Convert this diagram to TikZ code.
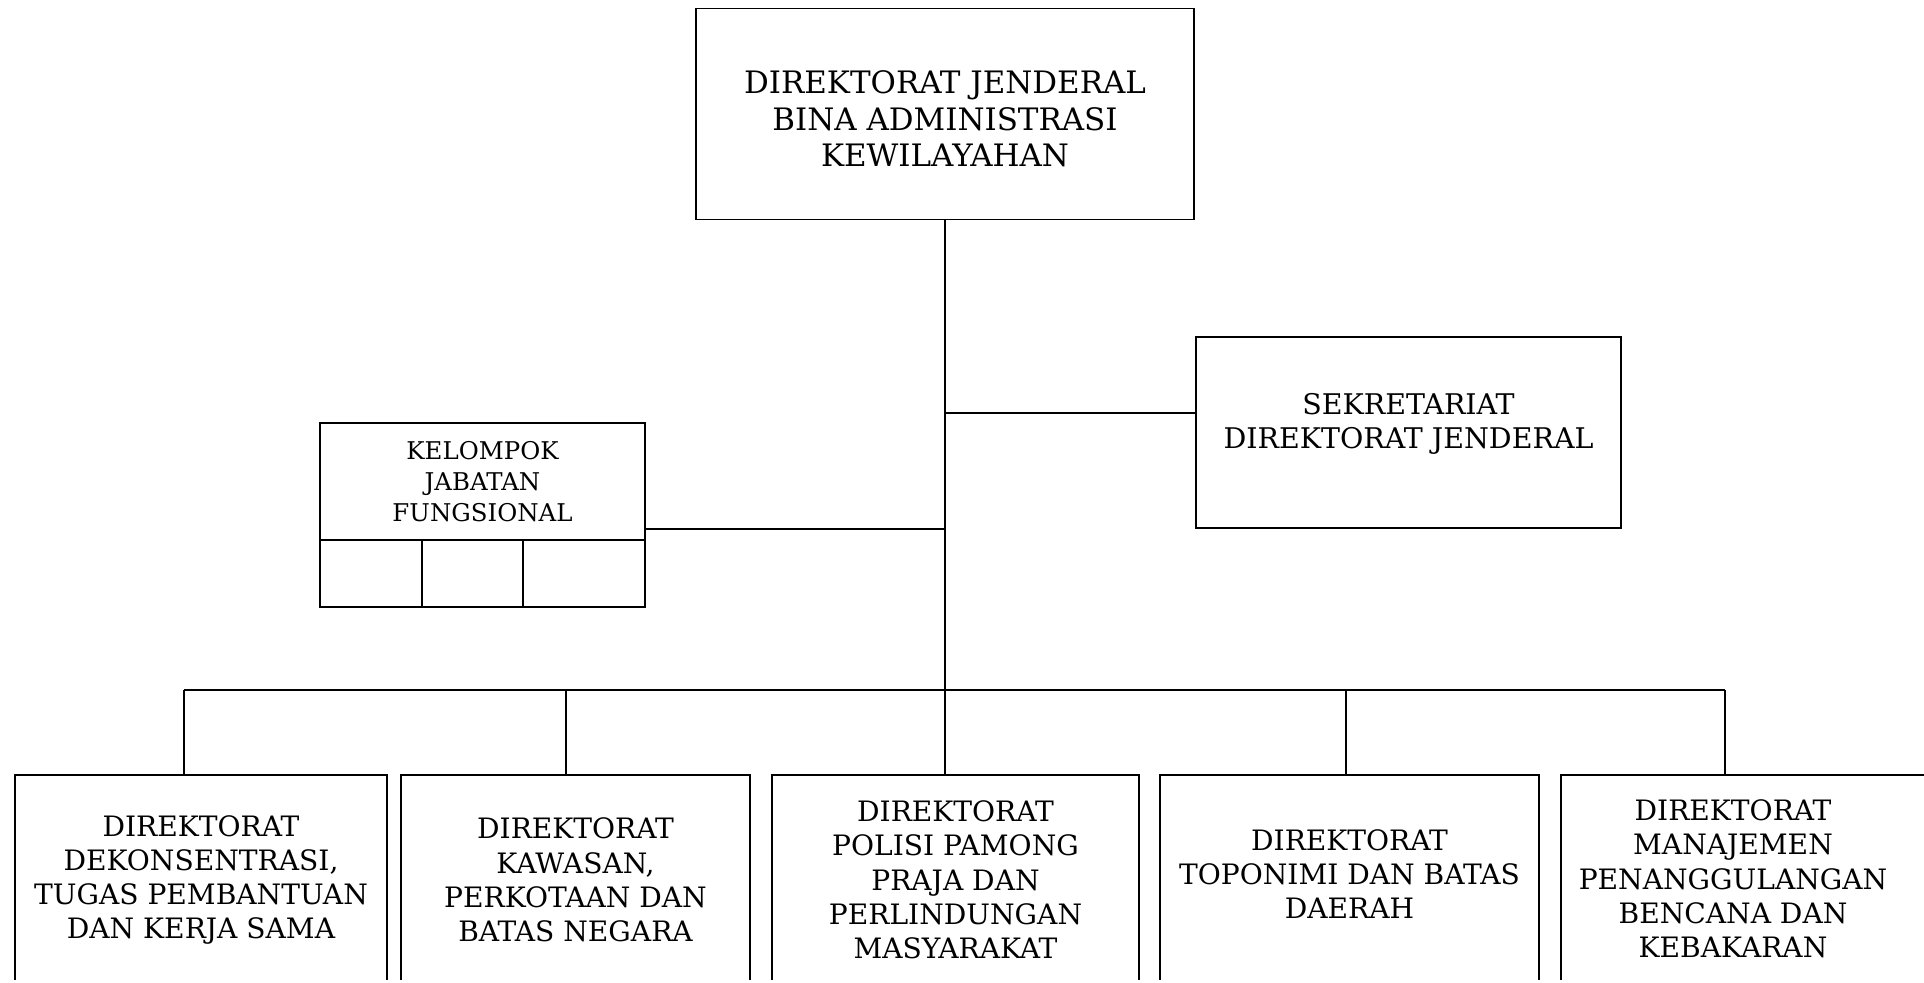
\documentclass[tikz,border=0pt]{standalone}
\usepackage{fontspec}
\setmainfont{DejaVu Serif}
\begin{document}
\begin{tikzpicture}[x=0.02cm, y=-0.02cm, line width=1pt,
		box/.style={draw, align=center, inner sep=0pt},
		bigtext/.style={font=\fontsize{17.6}{20.8}\selectfont},
		midtext/.style={font=\fontsize{16.2}{19.5}\selectfont},
		lowtext/.style={font=\fontsize{16}{19.5}\selectfont},
		smalltext/.style={font=\fontsize{13.9}{17.5}\selectfont}]
		\useasboundingbox (0,0) rectangle (1924,983);
		\clip (-5,-5) rectangle (1930,979);
		% pimpinan dan staf
		\node [box, minimum width=9.96cm, minimum height=4.22cm] (dirjen) at (945,114) {};
		\node [bigtext, align=center] (dirjentxt) at (945,119) {DIREKTORAT JENDERAL\\BINA ADMINISTRASI\\KEWILAYAHAN};
		\node [box, minimum width=8.5cm, minimum height=3.82cm] (sekre) at (1408.5,432.5) {};
		\node [midtext, align=center] (sekretxt) at (1408.5,424) {SEKRETARIAT\\DIREKTORAT JENDERAL};
		\node [box, smalltext, minimum width=6.5cm, minimum height=2.34cm] (kjf) at (482.5,481.5) {KELOMPOK\\JABATAN\\FUNGSIONAL};
		\node [box, minimum width=2.04cm, minimum height=1.34cm] (kjfa) at (371,573.5) {};
		\node [box, minimum width=2.02cm, minimum height=1.34cm] (kjfb) at (472.5,573.5) {};
		\node [box, minimum width=2.44cm, minimum height=1.34cm] (kjfc) at (584,573.5) {};
		% direktorat
		\node [box, lowtext, minimum width=7.44cm, minimum height=4.2cm] (dit1) at (201,880) {DIREKTORAT\\DEKONSENTRASI,\\TUGAS PEMBANTUAN\\DAN KERJA SAMA};
		\node [box, lowtext, minimum width=6.98cm, minimum height=4.2cm] (dit2) at (575.5,880) {DIREKTORAT\\KAWASAN,\\PERKOTAAN DAN\\BATAS NEGARA};
		\node [box, lowtext, minimum width=7.34cm, minimum height=4.2cm] (dit3) at (955.5,880) {DIREKTORAT\\POLISI PAMONG\\PRAJA DAN\\PERLINDUNGAN\\MASYARAKAT};
		\node [box, minimum width=7.58cm, minimum height=4.2cm] (dit4) at (1349.5,880) {};
		\node [lowtext, align=center] (dit4txt) at (1349.5,874) {DIREKTORAT\\TOPONIMI DAN BATAS\\DAERAH};
		\node [box, minimum width=7.58cm, minimum height=4.2cm] (dit5) at (1750.5,880) {};
		\node [lowtext, align=center] (dit5txt) at (1733,879) {DIREKTORAT\\MANAJEMEN\\PENANGGULANGAN\\BENCANA DAN\\KEBAKARAN};
		% garis
		\coordinate (tosek) at (945,413);
		\coordinate (tokjf) at (945,529);
		\coordinate (busa) at (184,690);
		\coordinate (busb) at (566,690);
		\coordinate (busd) at (1346,690);
		\coordinate (buse) at (1725,690);
		\draw (dirjen.south) -- (dirjen.south |- dit3.north);
		\draw (tosek) -- (tosek -| sekre.west);
		\draw (tokjf) -- (tokjf -| kjf.east);
		\draw (busa) -- (buse);
		\foreach \b/\d in {busa/dit1, busb/dit2, busd/dit4, buse/dit5}
			\draw (\b) -- (\b |- \d.north);
	\end{tikzpicture}
\end{document}
